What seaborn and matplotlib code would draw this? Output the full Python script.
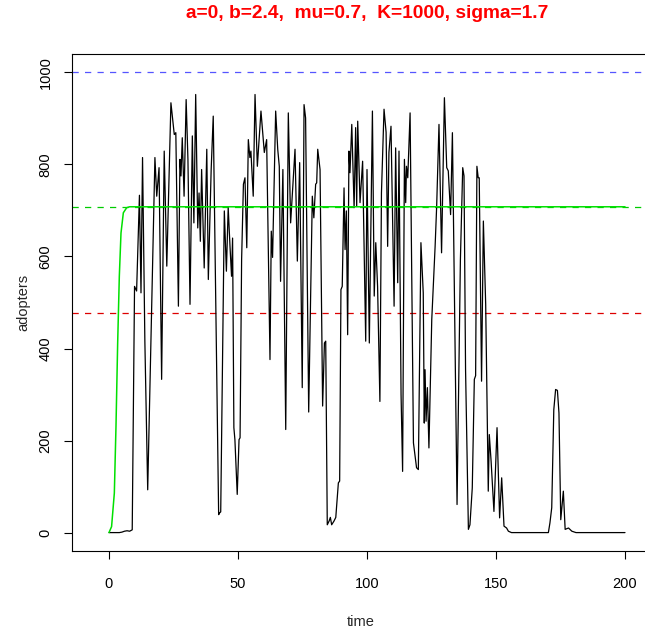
import matplotlib
matplotlib.use("Agg")
import matplotlib.pyplot as plt
import seaborn as sns
import pandas as pd

# ---- data ----
time_pts = [0, 1, 2, 3, 4, 5, 6, 7, 8, 9,
            9.9, 10.7, 11.8, 12.4, 13.0, 13.9, 15.0,
            17.8, 18.5, 19.4, 20.4, 21.4, 22.4, 24.0, 25.3, 25.9, 26.9, 27.5, 27.9, 28.4, 29.1, 29.9, 30.6,
            31.4, 32.3, 32.9, 33.6, 34.4, 34.9, 35.4, 35.9, 36.9, 37.9, 38.5, 39.6, 40.4, 42.5, 42.9, 43.3, 44.7,
            45.5, 46.2, 46.9, 47.5, 47.9, 48.4, 48.8, 49.7, 50.4, 50.8, 51.4, 52.1, 52.7, 53.4, 54.0, 54.6, 55.0,
            55.9, 56.6, 57.5, 58.9, 60.2, 61.1,
            62.4, 62.9, 63.4, 64.6, 65.4, 66.0, 66.5, 67.4, 68.5, 69.5, 70.4, 72.1, 73.0, 73.9, 74.9, 75.6, 76.2, 77.4,
            78.8, 79.4, 80.1, 80.5, 80.9, 81.8, 82.8, 83.5, 84.0, 84.6, 85.3, 85.8, 86.3, 87.2, 87.9, 88.9, 89.4,
            89.9, 90.4, 91.1, 91.5, 92.0, 92.5, 93.0,
            93.4, 94.1, 95.0, 95.6, 96.0, 96.4, 97.3, 98.3, 99.5, 100.0, 100.9, 102.1, 102.8, 103.4, 104.1, 105.0,
            105.6, 106.6, 107.4, 108.0,
            108.5, 109.3, 110.5, 111.1, 111.9, 112.4, 113.2, 113.8, 114.5, 115.0, 115.3, 115.8, 116.7, 118.0, 119.2,
            119.9, 120.9, 121.8, 122.2, 122.5, 122.9, 123.4, 124.0,
            125.1, 126.4, 127.0, 127.9, 128.9, 130.0, 130.9, 131.5, 132.4, 133.1, 134.9, 136.2, 137.1, 137.6, 138.2,
            139.3, 139.9, 140.8, 141.6, 142.1, 142.6, 143.1, 143.5, 144.4, 145.1, 146.0, 147.0, 147.4, 148.1, 149.2,
            150.4, 151.4, 152.2, 153.1, 154.1, 154.8, 156, 170.3,
            170.9, 171.6, 172.4, 173.1, 173.8, 174.4, 175.1, 176.1, 176.8, 178.1, 179.4, 181, 200]
adopters = [0, 0, 0, 0, 0, 1, 3, 4, 3, 6,
            535, 525, 733, 521, 815, 416, 93,
            815, 731, 793, 333, 829, 579, 934, 865, 869, 492, 811, 775, 858, 731, 941, 810,
            496, 862, 673, 952, 662, 738, 633, 789, 575, 833, 550, 789, 905, 39, 43, 45, 699,
            568, 706, 622, 557, 640, 228, 202, 83, 202, 206, 593, 757, 771, 619, 854, 815, 829,
            731, 952, 796, 916, 826, 854,
            376, 655, 598, 916, 833, 796, 546, 789, 224, 912, 673, 833, 590, 804, 315, 930, 901, 262,
            731, 684, 757, 760, 833, 789, 275, 412, 416, 17, 25, 33, 17, 25, 33, 108, 112,
            528, 535, 749, 615, 699, 430, 829,
            782, 887, 706, 880, 709, 894, 717, 807, 416, 789, 412, 916, 514, 630, 535, 285,
            738, 920, 870, 622,
            826, 883, 492, 836, 543, 829, 300, 133, 811, 717, 796, 771, 912, 195, 141,
            137, 630, 521, 238, 354, 242, 315, 184,
            463, 622, 709, 887, 608, 945, 793, 786, 691, 869, 61, 593, 793, 775, 354,
            7, 17, 97, 333, 341, 796, 771, 771, 329, 677, 496, 90, 213, 155, 46,
            228, 32, 119, 14, 10, 3, 0, 0,
            21, 54, 267, 311, 309, 260, 28, 90, 7, 10, 3, 0, 0]

det_time = [0, 1.0, 2.07, 2.71, 3.36, 4.0, 4.65, 5.56, 6.85, 8.0, 200]
det_adopters = [0, 13, 86, 231, 412, 557, 651, 695, 706, 708, 708]

ref_levels = [1000, 708, 478]
ref_colors = ["#5555ff", "#00cc00", "#dd0000"]

x_ticks = [0, 50, 100, 150, 200]
y_ticks = [0, 200, 400, 600, 800, 1000]

title = "a=0, b=2.4,  mu=0.7,  K=1000, sigma=1.7"

# ---- plot ----
sns.set_style("white")
plt.rcParams['font.family'] = ['Liberation Sans', 'DejaVu Sans']

fig = plt.figure(figsize=(6.45, 6.36), dpi=100)
W, H = 645, 636
left, right, top, bottom = 72, 649, 54, 551
ax = fig.add_axes([left / W, (H - bottom) / H, (right - left) / W, (bottom - top) / H])

for lvl, col in zip(ref_levels, ref_colors):
    ax.axhline(lvl, color=col, lw=0.9, dashes=(5, 5), zorder=1)

df_sim = pd.DataFrame({"time": time_pts, "adopters": adopters})
df_det = pd.DataFrame({"time": det_time, "adopters": det_adopters})
sns.lineplot(data=df_sim, x="time", y="adopters", ax=ax, color="black", lw=0.9,
             estimator=None, sort=False, zorder=3)
sns.lineplot(data=df_det, x="time", y="adopters", ax=ax, color="#00e000", lw=1.1,
             estimator=None, sort=False, zorder=4)

ax.set_xlim(-14.34, 209.3)
ax.set_ylim(-40, 1040)
ax.set_xticks(x_ticks)
ax.set_yticks(y_ticks)
ax.set_yticklabels([str(v) for v in y_ticks], rotation=90, va="center")
ax.tick_params(axis="both", direction="out", length=6, width=0.8, color="black",
               labelsize=10.5, labelcolor="black", left=True, bottom=True)
ax.tick_params(axis="x", pad=13)
ax.tick_params(axis="y", pad=8)
for s in ax.spines.values():
    s.set_visible(True)
    s.set_color("black")
    s.set_linewidth(0.8)

ax.set_xlabel("time", fontsize=10.5, labelpad=17)
ax.set_ylabel("adopters", fontsize=10.5, labelpad=6)
fig.text(367 / W, 1 - 14 / H, title, color="red", fontsize=13.8, fontweight="bold",
         ha="center", va="center")

fig.savefig("out.png", dpi=100)
